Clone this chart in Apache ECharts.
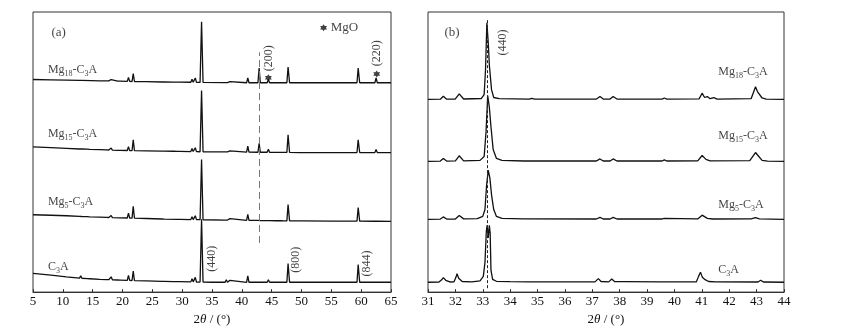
<!DOCTYPE html>
<html>
<head>
<meta charset="utf-8">
<script src="https://cdn.jsdelivr.net/npm/echarts@6/dist/echarts.min.js"></script>
<style>
  html, body { margin: 0; padding: 0; background: #fff; }
  #chart { width: 861px; height: 331px; }
</style>
</head>
<body>
<div id="chart"></div>
<script>
// XRD patterns, intensity in a.u. (each curve relative to its own baseline)
const offsetsA = [10, 72, 142, 213];
const offsetsB = [10, 74, 133, 196];

// panel (a): 2θ 5-65
const c3aWide = [[5,9],[8,7.2],[10.6,5.5],[12.8,4.2],[13.0,6.5],[13.2,4.1],[14.1,3.7],[14.3,5.5],[14.5,3.6],[16.2,3],[17.3,2.7],[17.5,4.5],[17.7,2.6],[17.9,2.6],[18.1,5.5],[18.3,2.5],[19.2,2.3],[19.4,3.5],[19.6,2.2],[20.8,1.9],[21.0,7],[21.2,1.9],[21.6,1.8],[21.8,11.5],[22.0,1.7],[24,1.4],[26.6,1],[26.8,3],[27.0,1],[28.5,0.7],[29.2,0.6],[29.4,1.8],[29.6,0.6],[31.45,0.4],[31.65,3.5],[31.85,0.4],[32.0,0.4],[32.2,5],[32.4,0.3],[33.0,0.2],[33.25,64],[33.5,0.3],[35,0],[37.2,0],[37.4,2.5],[37.6,0],[37.8,0],[38.0,2],[38.2,0],[40.8,0],[41.0,6.5],[41.2,0],[44.25,0],[44.45,2.5],[44.65,0],[45.8,0],[46.0,1.5],[46.2,0],[46.6,0],[46.8,1.8],[47.0,0],[47.55,0],[47.75,19],[48.0,0],[49.7,0],[49.9,1.5],[50.1,0],[59.3,0],[59.5,18],[59.75,0],[62.3,0],[62.5,1.2],[62.7,0],[65,0]];
const mg5Wide = [[5,6.7],[8,6.2],[10.6,5.7],[12.8,5],[13.0,7],[13.2,4.9],[14.1,4.7],[14.3,6.2],[14.5,4.6],[16.2,4.3],[17.3,4],[17.5,6],[17.7,3.9],[17.9,3.9],[18.1,5.9],[18.3,3.8],[20.8,3.4],[21.0,8.3],[21.2,3.4],[21.6,3.3],[21.8,15.3],[22.0,3.3],[24,2.9],[26.6,2.4],[26.8,4.3],[27.0,2.3],[29.2,2],[29.4,3],[29.6,2],[31.45,1.8],[31.65,4.8],[31.85,1.8],[32.0,1.8],[32.2,5.7],[32.4,1.7],[33.0,1.7],[33.25,63],[33.5,1.6],[37.2,1.3],[37.4,3.3],[37.6,1.3],[37.8,1.2],[38.0,2.7],[38.2,1.2],[40.8,1],[41.0,7],[41.2,1],[42.7,0.9],[42.9,2.8],[43.1,0.8],[44.25,0.7],[44.45,2.2],[44.65,0.7],[45.8,0.6],[46.0,1.6],[46.2,0.6],[46.6,0.6],[46.8,1.6],[47.0,0.5],[47.55,0.5],[47.75,17],[48.0,0.5],[49.7,0.4],[49.9,1.4],[50.1,0.4],[55,0.3],[59.3,0.2],[59.5,14],[59.75,0.2],[62.3,0.1],[62.5,2],[62.7,0.1],[65,0]];
const mg15Wide = [[5,5.7],[8,5],[10.6,4.3],[12.8,3.6],[13.0,5.1],[13.2,3.6],[14.1,3.4],[14.3,4.4],[14.5,3.3],[16.2,3],[17.3,2.7],[17.5,4.2],[17.7,2.6],[17.9,2.6],[18.1,4.6],[18.3,2.5],[19.2,2.3],[19.4,3.3],[19.6,2.2],[20.8,2.1],[21.0,6],[21.2,2],[21.6,2],[21.8,13],[22.0,2],[24,1.7],[26.6,1.4],[26.8,2.9],[27.0,1.4],[28.5,1.3],[29.2,1.2],[29.4,2.2],[29.6,1.2],[31.45,1],[31.65,4],[31.85,1],[32.0,0.9],[32.2,4.9],[32.4,0.9],[33.0,0.8],[33.25,63],[33.5,0.8],[35,0.7],[37.2,0.6],[37.4,2.1],[37.6,0.6],[37.8,0.6],[38.0,1.6],[38.2,0.5],[40.8,0.4],[41.0,6.4],[41.2,0.4],[42.7,0.3],[42.9,9.3],[43.1,0.3],[44.25,0.3],[44.45,3.3],[44.65,0.3],[45.8,0.2],[46.0,1.2],[46.2,0.2],[47.55,0.1],[47.75,18],[48.0,0.1],[49.7,0],[49.9,1],[50.1,0],[59.3,0],[59.5,13],[59.75,0],[62.3,0],[62.5,3],[62.7,0],[65,0]];
const mg18Wide = [[5,3.3],[8,3],[10.6,2.7],[12.8,2.4],[13.0,3.9],[13.2,2.4],[16.2,2],[17.3,1.9],[17.5,2.9],[17.7,1.9],[17.9,1.8],[18.1,3.3],[18.3,1.8],[19.2,1.6],[19.4,2.6],[19.6,1.6],[20.8,1.4],[21.0,5.4],[21.2,1.4],[21.6,1.3],[21.8,9.3],[22.0,1.3],[24,1.1],[26.6,0.8],[26.8,2.8],[27.0,0.8],[28.5,0.7],[29.2,0.6],[29.4,1.6],[29.6,0.6],[31.45,0.5],[31.65,3.5],[31.85,0.5],[32.0,0.4],[32.2,4.9],[32.4,0.4],[33.0,0.3],[33.25,62],[33.5,0.3],[37.2,0.1],[37.4,1.6],[37.6,0.1],[37.8,0.1],[38.0,1.1],[38.2,0.1],[40.8,0],[41.0,5],[41.2,0],[42.7,0],[42.9,15],[43.1,0],[44.25,0],[44.45,3.5],[44.65,0],[45.8,0],[46.0,1],[46.2,0],[47.55,0],[47.75,16],[48.0,0],[49.7,0],[49.9,1],[50.1,0],[59.3,0],[59.5,15],[59.75,0],[62.3,0],[62.5,5],[62.7,0],[65,0]];

// panel (b): 2θ 31-44
const c3aNarrow = [[31,0],[31.4,0.3],[31.5,2.5],[31.56,4.7],[31.65,2],[31.8,0.3],[31.95,0.5],[32.02,5],[32.06,8.7],[32.12,4],[32.25,0.8],[32.6,0.5],[32.9,1.5],[33.02,6],[33.08,20],[33.13,52],[33.16,58],[33.2,45],[33.24,58],[33.27,50],[33.3,12],[33.36,3],[33.5,1],[34,0.6],[34.65,0.4],[34.72,1.5],[34.8,0.5],[36.6,0.5],[36.67,1.5],[36.75,0.5],[37.1,0.4],[37.22,3.7],[37.32,0.8],[37.6,0.4],[37.71,3.3],[37.82,0.6],[38.2,0.6],[39.5,0.4],[39.57,2],[39.65,0.4],[40.8,0.5],[40.88,6],[40.95,10.3],[41.02,5],[41.1,3],[41.25,0.8],[41.5,0.5],[43.05,0.3],[43.15,2],[43.25,0.3],[44,0]];
const mg5Narrow = [[31,0],[31.45,0.3],[31.56,2.5],[31.68,0.3],[32.0,0.4],[32.14,4],[32.3,0.5],[32.8,0.8],[33.0,3],[33.08,10],[33.14,35],[33.2,50],[33.26,42],[33.32,25],[33.4,10],[33.5,3],[33.7,1],[34.5,0.5],[37.15,0.4],[37.28,2],[37.4,0.4],[37.65,0.4],[37.76,2],[37.9,0.4],[39.55,0.4],[39.63,1],[39.7,0.4],[40.85,0.5],[41.01,4.3],[41.2,1],[41.4,0.4],[42.8,0.5],[42.96,1.8],[43.1,0.5],[44,0]];
const mg15Narrow = [[31,0],[31.45,0.3],[31.56,3],[31.68,0.3],[32.0,0.5],[32.14,5.7],[32.3,0.5],[32.9,1],[33.05,5],[33.12,30],[33.18,67],[33.24,55],[33.3,35],[33.38,12],[33.5,3],[33.7,1],[34.5,0.4],[37.15,0.4],[37.28,2.5],[37.4,0.4],[37.65,0.4],[37.76,2.5],[37.9,0.4],[39.55,0.4],[39.63,1.5],[39.72,0.4],[40.85,0.6],[41.01,6],[41.15,2],[41.3,0.6],[42.75,0.8],[42.96,9],[43.05,6],[43.2,1],[43.4,0.3],[44,0]];
const mg18Narrow = [[31,0],[31.45,0.3],[31.56,3.3],[31.68,0.3],[32.0,0.5],[32.14,5.7],[32.3,0.5],[32.95,1],[33.05,5],[33.1,30],[33.15,78],[33.2,58],[33.24,35],[33.27,36],[33.32,10],[33.4,2],[33.6,0.8],[34.7,0.4],[34.78,1.2],[34.9,0.4],[37.15,0.4],[37.28,3],[37.4,0.4],[37.65,0.4],[37.76,3],[37.9,0.4],[39.55,0.4],[39.63,1.5],[39.72,0.4],[40.9,0.6],[41.01,6.4],[41.1,2],[41.2,3],[41.3,0.8],[41.44,2],[41.55,0.4],[42.8,0.8],[42.96,13],[43.03,8],[43.09,7],[43.2,1.5],[43.35,0.3],[44,0]];

const wideSeries = [c3aWide, mg5Wide, mg15Wide, mg18Wide];
const narrowSeries = [c3aNarrow, mg5Narrow, mg15Narrow, mg18Narrow];

// curve labels: [2θ, height, subscript]
const labelsA = [[7.5, 26, ""], [7.5, 92, "5"], [7.5, 161, "15"], [7.5, 226, "18"]];
const labelsB = [[41.6, 23, ""], [41.6, 89, "5"], [41.6, 159, "15"], [41.6, 224, "18"]];
// rotated hkl labels
const hklA = [[34.9, 34, "(440)"], [49.0, 33, "(800)"], [61.0, 29, "(844)"], [44.6, 238, "(200)"], [62.7, 243, "(220)"]];
const hklB = [[33.75, 254, "(440)"]];
const mgoStars = [[44.45, 218], [62.6, 222], [53.7, 269]];

const FONT = "'Liberation Serif', 'Times New Roman', serif";
const INK = "#111";
const STAR = "path://M0,-10 L2.9,-5 L8.7,-5 L5.8,0 L8.7,5 L2.9,5 L0,10 L-2.9,5 L-8.7,5 L-5.8,0 L-8.7,-5 L-2.9,-5 Z";

const rich = {
  t: { fontFamily: FONT, fontSize: 12, color: INK, lineHeight: 16, verticalAlign: "middle" },
  s: { fontFamily: FONT, fontSize: 8, color: INK, lineHeight: 8, verticalAlign: "bottom" },
};

function sampleName(sub) {
  return sub ? `{t|Mg}{s|${sub}}{t|-C}{s|3}{t|A}` : `{t|C}{s|3}{t|A}`;
}

function xAxisOf(i, min, max, interval) {
  return {
    type: "value", gridIndex: i, min, max, interval,
    name: "{n|2}{i|θ}{n| / (°)}",
    nameLocation: "middle", nameGap: 18,
    nameTextStyle: {
      rich: {
        n: { fontFamily: FONT, fontSize: 13, color: INK },
        i: { fontFamily: FONT, fontSize: 13, color: INK, fontStyle: "italic" },
      },
    },
    axisLine: { lineStyle: { color: "#333", width: 1 } },
    axisTick: { inside: true, length: 3, lineStyle: { color: "#333" } },
    axisLabel: { fontFamily: FONT, fontSize: 13, color: INK, margin: 3 },
    splitLine: { show: false },
  };
}

function curves(list, offsets, idx) {
  return list.map((pts, k) => ({
    type: "line", xAxisIndex: idx, yAxisIndex: idx,
    data: pts.map(([x, y]) => [x, y + offsets[k]]),
    showSymbol: false, symbol: "none",
    lineStyle: { color: INK, width: 1.3 },
    silent: true,
  }));
}

function nameLabels(list, idx) {
  return {
    type: "scatter", xAxisIndex: idx, yAxisIndex: idx, symbolSize: 0, silent: true,
    data: list.map(([x, y, sub]) => ({ value: [x, y], sub })),
    label: {
      show: true, position: "right", distance: 0,
      formatter: (p) => sampleName(p.data.sub), rich,
    },
  };
}

function hklLabels(list, idx) {
  return {
    type: "scatter", xAxisIndex: idx, yAxisIndex: idx, symbolSize: 0, silent: true,
    data: list.map(([x, y, t]) => ({ value: [x, y], t })),
    label: {
      show: true, position: "inside", rotate: 90,
      fontFamily: FONT, fontSize: 12, color: INK,
      formatter: (p) => p.data.t,
    },
  };
}

const chart = echarts.init(document.getElementById("chart"), null, { renderer: "canvas" });

chart.setOption({
  animation: false,
  backgroundColor: "#fff",
  grid: [
    { left: 33, right: 470, top: 12, bottom: 34, show: true, borderColor: "#333", borderWidth: 1 },
    { left: 428, right: 77, top: 12, bottom: 34, show: true, borderColor: "#333", borderWidth: 1 },
  ],
  xAxis: [xAxisOf(0, 5, 65, 5), xAxisOf(1, 31, 44, 1)],
  yAxis: [
    { type: "value", gridIndex: 0, min: 0, max: 285, show: false },
    { type: "value", gridIndex: 1, min: 0, max: 285, show: false },
  ],
  series: [
    ...curves(wideSeries, offsetsA, 0),
    ...curves(narrowSeries, offsetsB, 1),
    {
      type: "line", xAxisIndex: 0, yAxisIndex: 0, data: [], silent: true,
      markLine: {
        symbol: "none", silent: true, label: { show: false },
        lineStyle: { color: "#777", width: 1, type: [7, 4] },
        data: [[{ coord: [42.88, 50] }, { coord: [42.88, 244] }]],
      },
    },
    {
      type: "line", xAxisIndex: 1, yAxisIndex: 1, data: [], silent: true,
      markLine: {
        symbol: "none", silent: true, label: { show: false },
        lineStyle: { color: "#222", width: 1, type: [3, 2] },
        data: [[{ coord: [33.15, 4] }, { coord: [33.15, 277] }]],
      },
    },
    nameLabels(labelsA, 0),
    nameLabels(labelsB, 1),
    hklLabels(hklA, 0),
    hklLabels(hklB, 1),
    {
      type: "scatter", xAxisIndex: 0, yAxisIndex: 0, silent: true,
      symbol: STAR, symbolSize: 7, itemStyle: { color: INK },
      data: mgoStars,
    },
    {
      type: "scatter", xAxisIndex: 0, yAxisIndex: 0, symbolSize: 0, silent: true,
      data: [{ value: [54.9, 269], t: "MgO" }, { value: [8.1, 264], t: "(a)" }],
      label: { show: true, position: "right", distance: 0, fontFamily: FONT, fontSize: 13, color: INK, formatter: (p) => p.data.t },
    },
    {
      type: "scatter", xAxisIndex: 1, yAxisIndex: 1, symbolSize: 0, silent: true,
      data: [{ value: [31.6, 264], t: "(b)" }],
      label: { show: true, position: "right", distance: 0, fontFamily: FONT, fontSize: 13, color: INK, formatter: (p) => p.data.t },
    },
  ],
});
</script>
</body>
</html>
